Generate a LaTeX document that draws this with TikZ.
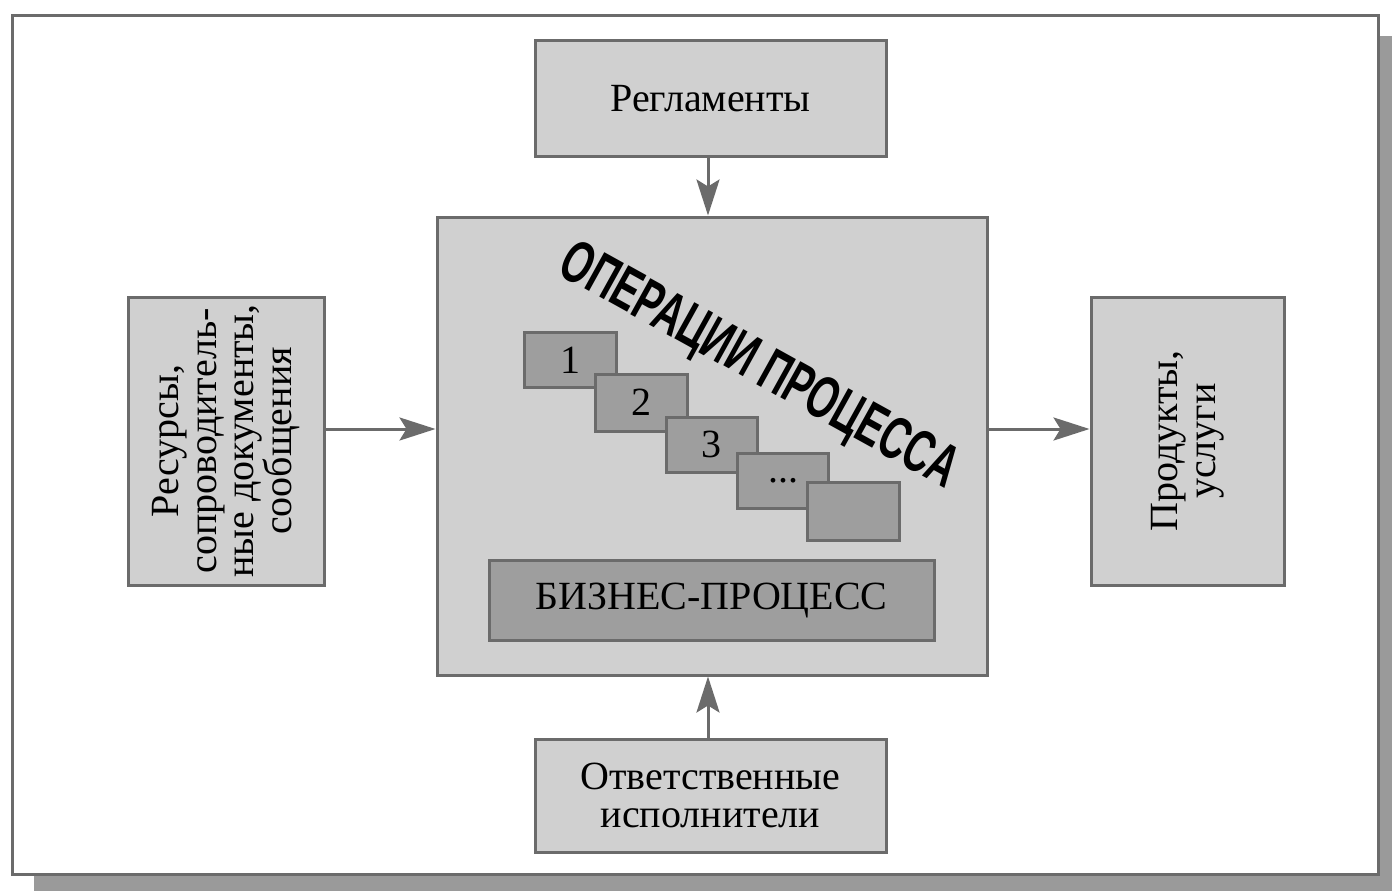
\documentclass[tikz,border=0pt]{standalone}
\usepackage{fontspec}
\setmainfont{Liberation Serif}
\newfontfamily\opfont{Liberation Sans}
\usetikzlibrary{arrows.meta}
\definecolor{boxfill}{HTML}{D0D0D0}
\definecolor{boxline}{HTML}{6B6B6B}
\definecolor{opfill}{HTML}{9E9E9E}
\definecolor{shadowc}{HTML}{9A9A9A}
\tikzset{
  txt/.style={font=\fontsize{40}{37.5}\selectfont, align=center},
  box/.style={draw=boxline, fill=boxfill, line width=3pt, inner sep=0pt, txt},
  opbox/.style={box, fill=opfill},
  conn/.style={draw=boxline, line width=3pt,
    -{Stealth[length=36pt, width=23pt, inset=7pt]}}
}
\begin{document}
\begin{tikzpicture}[x=1pt,y=-1pt]
\useasboundingbox (0,0) rectangle (1392,891);
% frame with shadow
\fill[shadowc] (34,36) rectangle (1392,891);
\draw[boxline, line width=3pt, fill=white] (12,16) rectangle (1378,874);
% boxes
\node[box, minimum width=351pt, minimum height=115pt] (reg) at (710.5,98.5) {Регламенты};
\node[box, minimum width=550pt, minimum height=458pt] (center) at (712,446) {};
\node[box, minimum width=196pt, minimum height=288pt] (left) at (226,441) {};
\node[rotate=90, txt] (lefttext) at (left.center) {Ресурсы,\\сопроводитель-\\ные документы,\\сообщения};
\node[box, minimum width=193pt, minimum height=288pt] (right) at (1187.5,441) {};
\node[rotate=90, txt] (righttext) at (right.center) {Продукты,\\услуги};
\node[box, minimum width=351pt, minimum height=113pt] (bottom) at (710.5,795.5) {Ответственные\\исполнители};
% operations
\node[opbox, minimum width=92pt, minimum height=55pt] (op1) at (570,360) {1};
\node[opbox, minimum width=92pt, minimum height=57pt] (op2) at (641,402.5) {2};
\node[opbox, minimum width=91pt, minimum height=55pt] (op3) at (711.5,444.5) {3};
\node[opbox, minimum width=91pt, minimum height=55pt] (op4) at (783,481) {...};
\node[opbox, minimum width=92pt, minimum height=58pt] (op5) at (853,511) {};
\node[rotate=-29, font=\opfont\bfseries\fontsize{60}{64}\selectfont] (optitle) at (758,368)
  {\scalebox{0.64}[1]{ОПЕРАЦИИ ПРОЦЕССА}};
\node[opbox, minimum width=445pt, minimum height=80pt] (biz) at (711.5,600) {БИЗНЕС-ПРОЦЕСС};
% connectors
\draw[conn] (reg.south -| 708,0) -- (center.north -| 708,0);
\draw[conn] (bottom.north -| 708,0) -- (center.south -| 708,0);
\draw[conn] (left.east |- 0,429) -- (center.west |- 0,429);
\draw[conn] (center.east |- 0,429) -- (right.west |- 0,429);
\end{tikzpicture}
\end{document}
